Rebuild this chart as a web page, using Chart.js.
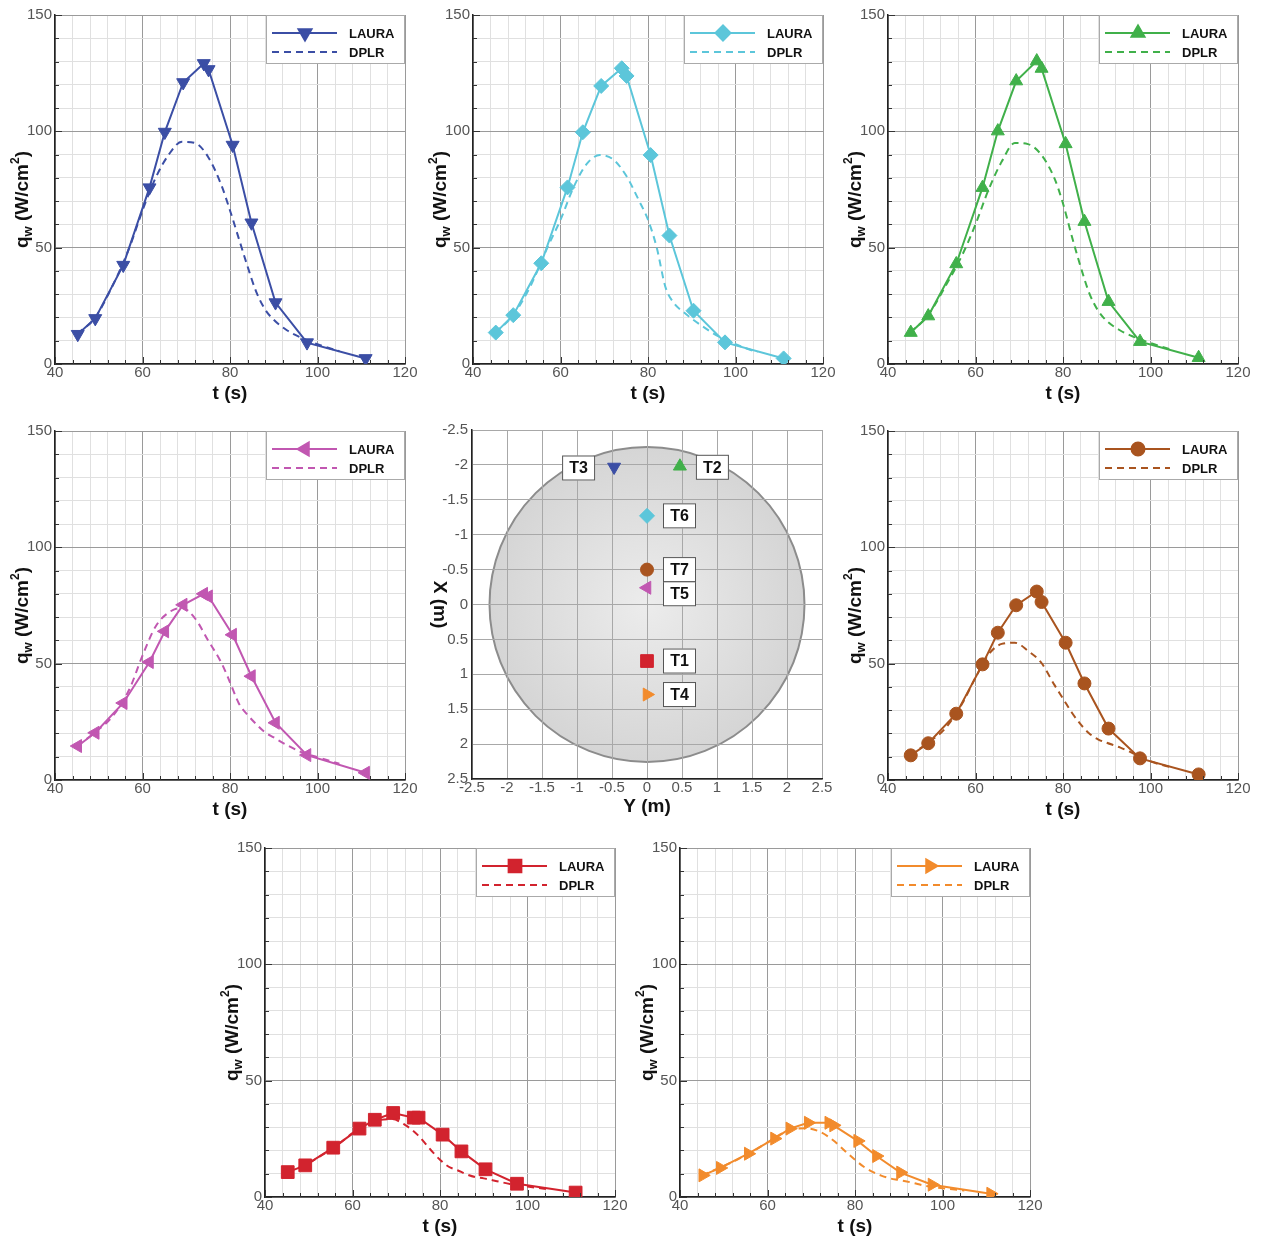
<!DOCTYPE html>
<html>
<head>
<meta charset="utf-8">
<script src="https://cdn.jsdelivr.net/npm/chart.js@4.4.1/dist/chart.umd.min.js"></script>
<style>
body{margin:0;background:#fff;}
#page{position:relative;width:1262px;height:1247px;overflow:hidden;background:#fff;}
canvas{position:absolute;}
</style>
</head>
<body>
<div id="page"></div>
<script>
const FONT = "'Liberation Sans', Arial, Helvetica, sans-serif";
Chart.defaults.font.family = FONT;

// tick labels
const tLabels = [40, 60, 80, 100, 120];
const qLabels = [0, 50, 100, 150];
const posLabels = [-2.5, -2, -1.5, -1, -0.5, 0, 0.5, 1, 1.5, 2, 2.5];

// time of the LAURA / DPLR solutions (s)
const lauraTime = [45.2, 49.2, 55.6, 61.6, 65.1, 69.3, 74.0, 75.1, 80.6, 84.9, 90.4, 97.6, 111.0];
const dplrTime  = [45, 49, 53, 57, 60, 63, 66, 69, 72, 75, 78, 80, 82, 84, 86, 88, 90, 93, 96, 100, 105];

// heating q_w (W/cm2), LAURA
const lauraT1 = [10.7, 13.6, 21.2, 29.4, 33.2, 36.1, 34.1, 34.1, 26.8, 19.6, 11.9, 5.7, 1.9];
const lauraT2 = [13.5, 20.6, 43.0, 75.8, 100.1, 121.6, 130.2, 127.0, 94.6, 61.2, 26.8, 9.6, 2.7];
const lauraT3 = [12.8, 19.6, 42.5, 75.8, 99.7, 121.0, 129.2, 126.6, 94.1, 60.7, 26.4, 9.2, 2.4];
const lauraT4 = [9.3, 12.5, 18.6, 25.1, 29.4, 31.9, 31.9, 30.8, 24.1, 17.6, 10.5, 5.3, 1.4];
const lauraT5 = [14.6, 20.3, 33.1, 50.7, 63.9, 75.3, 80.0, 78.9, 62.4, 44.6, 24.6, 10.7, 3.1];
const lauraT6 = [13.5, 21.0, 43.3, 75.9, 99.6, 119.5, 127.1, 123.8, 89.8, 55.2, 22.9, 9.3, 2.4];
const lauraT7 = [10.6, 15.8, 28.5, 49.7, 63.3, 75.1, 81.0, 76.5, 59.0, 41.5, 22.1, 9.3, 2.4];

// heating q_w (W/cm2), DPLR
const dplrT1 = [10.7, 13.6, 18, 23, 27.5, 31, 33, 33.5, 31, 26.5, 20, 16, 13, 11.5, 9.8, 8.6, 8, 6.8, 5.6, 4.5, 3.3];
const dplrT2 = [13.5, 20.5, 33, 47, 60, 75, 87, 95, 94.5, 90, 80, 69, 55, 42, 30.5, 23, 18.5, 14.5, 11.8, 9, 6];
const dplrT3 = [13, 19.5, 33, 50, 66, 80, 90, 95.5, 95, 89, 77, 66, 54, 42, 31, 23.5, 19, 14.5, 11.5, 8.5, 5.5];
const dplrT4 = [9.3, 12.5, 16, 20, 23.5, 27, 29.2, 29.5, 28, 24.4, 19.3, 16, 13, 10.8, 9.2, 8, 7.3, 6.2, 4.8, 3.8, 2.8];
const dplrT5 = [14.6, 20.3, 27, 39, 53.5, 66, 72, 74, 69.5, 60, 50.5, 42, 33, 28, 24, 20.5, 18.3, 15, 12.2, 9.8, 7];
const dplrT6 = [13.5, 20.5, 33, 50, 62, 76, 86, 89.8, 88, 81, 70, 62, 50, 33, 26, 22.5, 19.5, 15.5, 12, 8.5, 5];
const dplrT7 = [10.6, 15.8, 22, 33, 44, 54, 58.5, 59, 55.5, 50.5, 41, 35, 29, 24, 20, 17.5, 16, 14, 11.5, 8, 5.3];

// thermocouple locations on the heatshield (m)
const probeNames = ["T1", "T2", "T3", "T4", "T5", "T6", "T7"];
const probeY = [0, 0.47, -0.47, 0, 0, 0, 0];
const probeX = [0.81, -1.98, -1.97, 1.29, -0.24, -1.27, -0.5];
const shieldRadius = 2.25;

// styles
const probeStyle = {
  T1: {color: '#d2232e', shape: 'rect', rot: 0, r: 9, laura: lauraT1, dplr: dplrT1},
  T2: {color: '#40b04a', shape: 'triangle', rot: 0, r: 7.5, laura: lauraT2, dplr: dplrT2},
  T3: {color: '#3b4ea5', shape: 'triangle', rot: 180, r: 7.5, laura: lauraT3, dplr: dplrT3},
  T4: {color: '#f28b2c', shape: 'triangle', rot: 90, r: 7.5, laura: lauraT4, dplr: dplrT4},
  T5: {color: '#c157b1', shape: 'triangle', rot: -90, r: 7.5, laura: lauraT5, dplr: dplrT5},
  T6: {color: '#5cc6da', shape: 'rectRot', rot: 0, r: 7.5, laura: lauraT6, dplr: dplrT6},
  T7: {color: '#a9541f', shape: 'circle', rot: 0, r: 6.5, laura: lauraT7, dplr: dplrT7}
};
const MAJOR = '#9a9a9a', MINOR = '#e0e0e0';
const W = 425, H = 419;

function pairs(xs, ys) { return xs.map((x, i) => ({x: x, y: ys[i]})); }

function addCanvas(left, top) {
  const c = document.createElement('canvas');
  c.width = W; c.height = H;
  c.style.left = left + 'px'; c.style.top = top + 'px';
  document.getElementById('page').appendChild(c);
  return c;
}

// titles with sub/superscripts
const yTitle = {
  id: 'yTitle',
  afterDraw(chart, args, opts) {
    if (!opts.parts) return;
    const {ctx, chartArea: a} = chart;
    ctx.save();
    ctx.translate(a.left + opts.dx, (a.top + a.bottom) / 2 + opts.dy);
    ctx.rotate(opts.rotation * Math.PI / 180);
    let total = 0;
    opts.parts.forEach(p => { ctx.font = 'bold ' + p.size + 'px ' + FONT; total += ctx.measureText(p.text).width; });
    let cx = -total / 2;
    ctx.fillStyle = '#111';
    ctx.textBaseline = 'middle';
    ctx.textAlign = 'left';
    opts.parts.forEach(p => {
      ctx.font = 'bold ' + p.size + 'px ' + FONT;
      ctx.fillText(p.text, cx, p.shift);
      cx += ctx.measureText(p.text).width;
    });
    ctx.restore();
  }
};

// small tick marks pointing into the plot
const innerTicks = {
  id: 'innerTicks',
  afterDraw(chart, args, opts) {
    if (!opts.show) return;
    const {ctx, chartArea: a, scales: {x, y}} = chart;
    ctx.save();
    ctx.strokeStyle = '#333';
    ctx.lineWidth = 1;
    ctx.beginPath();
    x.ticks.forEach(t => {
      const px = Math.round(x.getPixelForValue(t.value)) + 0.5;
      const len = tLabels.includes(t.value) ? 7 : 4;
      ctx.moveTo(px, a.bottom); ctx.lineTo(px, a.bottom - len);
    });
    y.ticks.forEach(t => {
      const py = Math.round(y.getPixelForValue(t.value)) + 0.5;
      const len = qLabels.includes(t.value) ? 7 : 4;
      ctx.moveTo(a.left, py); ctx.lineTo(a.left + len, py);
    });
    ctx.stroke();
    ctx.restore();
  }
};

function marker(ctx, ds, x, y) {
  ctx.fillStyle = ds.pointBackgroundColor;
  ctx.strokeStyle = ds.pointBorderColor;
  Chart.helpers.drawPoint(ctx, {pointStyle: ds.pointStyle, rotation: ds.pointRotation, radius: ds.pointRadius, borderWidth: 1}, x, y);
}

// framed legend in the upper right corner
const boxLegend = {
  id: 'boxLegend',
  afterDraw(chart, args, opts) {
    if (!opts.show) return;
    const {ctx, chartArea: a} = chart;
    const w = 139, h = 49, left = a.right - w, top = a.top;
    ctx.save();
    ctx.fillStyle = '#fff';
    ctx.fillRect(left, top, w, h);
    ctx.strokeStyle = '#aaa';
    ctx.lineWidth = 1;
    ctx.strokeRect(left + 0.5, top + 0.5, w - 1, h - 1);
    chart.data.datasets.forEach((ds, i) => {
      const yy = top + 18 + i * 19;
      ctx.strokeStyle = ds.borderColor;
      ctx.lineWidth = ds.borderWidth;
      ctx.setLineDash(ds.borderDash || []);
      ctx.beginPath(); ctx.moveTo(left + 6, yy); ctx.lineTo(left + 71, yy); ctx.stroke();
      ctx.setLineDash([]);
      if (ds.pointRadius > 0) marker(ctx, ds, left + 39, yy);
      ctx.fillStyle = '#111';
      ctx.font = 'bold 13px ' + FONT;
      ctx.textBaseline = 'middle';
      ctx.textAlign = 'left';
      ctx.fillText(ds.label, left + 83, yy + 1);
    });
    ctx.restore();
  }
};

// heatshield disc under the grid
const shield = {
  id: 'shield',
  beforeDraw(chart, args, opts) {
    if (!opts.show) return;
    const {ctx, scales: {x, y}} = chart;
    const cx = x.getPixelForValue(0), cy = y.getPixelForValue(0);
    const r = x.getPixelForValue(shieldRadius) - cx;
    ctx.save();
    const g = ctx.createRadialGradient(cx, cy, 0, cx, cy, r);
    g.addColorStop(0, '#ececec');
    g.addColorStop(1, '#d5d5d5');
    ctx.fillStyle = g;
    ctx.beginPath(); ctx.arc(cx, cy, r, 0, Math.PI * 2);
    ctx.fill();
    ctx.strokeStyle = '#8c8c8c';
    ctx.lineWidth = 2;
    ctx.stroke();
    ctx.restore();
  }
};

// boxed probe names next to the markers
const probeLabels = {
  id: 'probeLabels',
  afterDatasetsDraw(chart, args, opts) {
    if (!opts.show) return;
    const {ctx} = chart;
    const meta = chart.getDatasetMeta(0);
    ctx.save();
    ctx.font = 'bold 16px ' + FONT;
    ctx.textAlign = 'center';
    ctx.textBaseline = 'middle';
    meta.data.forEach((pt, i) => {
      const name = probeNames[i];
      const bw = 33, bh = 25;
      const bx = name === 'T3' ? pt.x - 19 - bw : pt.x + 16;
      const by = pt.y - bh / 2 + (name === 'T5' ? 6 : 0) + (name === 'T2' || name === 'T3' ? 1 : 0);
      ctx.fillStyle = '#fff';
      ctx.fillRect(bx, by, bw, bh);
      ctx.strokeStyle = '#555';
      ctx.lineWidth = 1;
      ctx.strokeRect(bx + 0.5, by + 0.5, bw - 1, bh - 1);
      ctx.fillStyle = '#111';
      ctx.fillText(name, bx + bw / 2, by + bh / 2 + 1);
    });
    ctx.restore();
  }
};

const qwParts = [
  {text: 'q', size: 19, shift: 0},
  {text: 'w', size: 13, shift: 5},
  {text: ' (W/cm', size: 19, shift: 0},
  {text: '2', size: 12, shift: -7},
  {text: ')', size: 19, shift: 0}
];

function tickFont() { return {size: 15, family: FONT}; }
function titleFont() { return {size: 19, weight: 'bold', family: FONT}; }

function heatingChart(name, left, top) {
  const st = probeStyle[name];
  new Chart(addCanvas(left, top), {
    type: 'line',
    data: {
      datasets: [
        {
          label: 'LAURA',
          data: pairs(lauraTime, st.laura),
          borderColor: st.color,
          borderWidth: 2,
          pointStyle: st.shape,
          pointRotation: st.rot,
          pointRadius: st.r,
          pointBackgroundColor: st.color,
          pointBorderColor: st.color,
          pointBorderWidth: 1,
          tension: 0
        },
        {
          label: 'DPLR',
          data: pairs(dplrTime, st.dplr),
          borderColor: st.color,
          borderWidth: 2,
          borderDash: [7, 5],
          pointRadius: 0,
          cubicInterpolationMode: 'monotone'
        }
      ]
    },
    options: {
      responsive: false,
      animation: false,
      devicePixelRatio: 1,
      layout: {padding: {top: 15, right: 20, left: 0, bottom: 0}},
      plugins: {
        legend: {display: false},
        tooltip: {enabled: false},
        boxLegend: {show: true},
        innerTicks: {show: true},
        yTitle: {parts: qwParts, rotation: -90, dx: -32, dy: 10}
      },
      scales: {
        x: {
          type: 'linear', min: 40, max: 120,
          afterFit(s) { s.height = 55; },
          ticks: {stepSize: 4, autoSkip: false, maxRotation: 0, padding: 0, color: '#555', font: tickFont(),
                  callback: v => tLabels.includes(v) ? String(v) : ''},
          grid: {drawTicks: false, color: c => (c.tick && tLabels.includes(c.tick.value)) ? MAJOR : MINOR},
          border: {color: '#222', width: 1.5},
          title: {display: true, text: 't (s)', color: '#111', font: titleFont(), padding: {top: 0, bottom: 14}}
        },
        y: {
          type: 'linear', min: 0, max: 150,
          afterFit(s) { s.width = 55; },
          ticks: {stepSize: 10, autoSkip: false, padding: 3, color: '#555', font: tickFont(),
                  callback: v => qLabels.includes(v) ? String(v) : ''},
          grid: {drawTicks: false, color: c => (c.tick && qLabels.includes(c.tick.value)) ? MAJOR : MINOR},
          border: {color: '#222', width: 1.5}
        }
      }
    },
    plugins: [boxLegend, innerTicks, yTitle]
  });
}

function locationChart(left, top) {
  const st = probeNames.map(n => probeStyle[n]);
  new Chart(addCanvas(left, top), {
    type: 'scatter',
    data: {
      datasets: [{
        label: 'probes',
        data: pairs(probeY, probeX),
        pointStyle: st.map(s => s.shape),
        pointRotation: st.map(s => s.rot),
        pointRadius: st.map(s => s.r),
        backgroundColor: st.map(s => s.color),
        borderColor: st.map(s => s.color),
        pointBorderWidth: 1
      }]
    },
    options: {
      responsive: false,
      animation: false,
      devicePixelRatio: 1,
      layout: {padding: {top: 15, right: 20, left: 0, bottom: 0}},
      plugins: {
        legend: {display: false},
        tooltip: {enabled: false},
        shield: {show: true},
        probeLabels: {show: true},
        yTitle: {parts: [{text: 'X (m)', size: 19, shift: 0}], rotation: 90, dx: -33, dy: 0}
      },
      scales: {
        x: {
          type: 'linear', min: -2.5, max: 2.5,
          afterFit(s) { s.height = 55; },
          ticks: {stepSize: 0.5, autoSkip: false, maxRotation: 0, padding: 0, color: '#555', font: tickFont(),
                  callback: v => posLabels.includes(v) ? String(v) : ''},
          grid: {drawTicks: false, color: '#a8a8a8'},
          border: {color: '#222', width: 1.5},
          title: {display: true, text: 'Y (m)', color: '#111', font: titleFont(), padding: {top: 0, bottom: 16}}
        },
        y: {
          type: 'linear', min: -2.5, max: 2.5, reverse: true,
          afterFit(s) { s.width = 55; },
          ticks: {stepSize: 0.5, autoSkip: false, padding: 4, color: '#555', font: tickFont(),
                  callback: v => posLabels.includes(v) ? String(v) : ''},
          grid: {drawTicks: false, color: '#a8a8a8'},
          border: {color: '#222', width: 1.5}
        }
      }
    },
    plugins: [shield, probeLabels, yTitle]
  });
}

heatingChart('T3', 0, 0);
heatingChart('T6', 418, 0);
heatingChart('T2', 833, 0);
heatingChart('T5', 0, 416);
locationChart(417, 415);
heatingChart('T7', 833, 416);
heatingChart('T1', 210, 833);
heatingChart('T4', 625, 833);
</script>
</body>
</html>
